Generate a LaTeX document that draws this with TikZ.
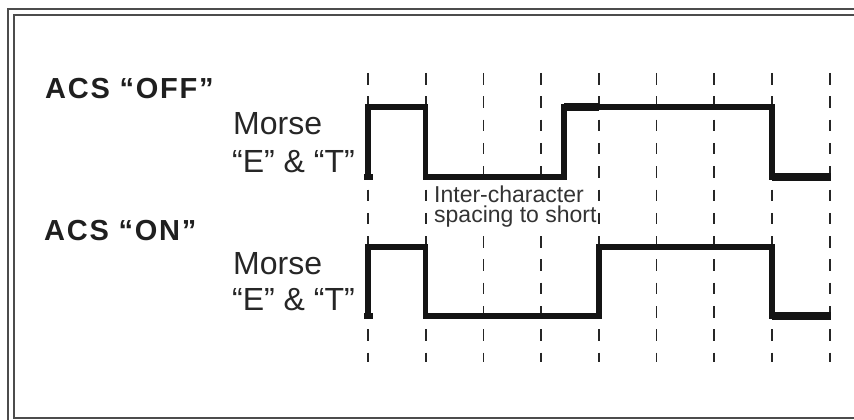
\documentclass[tikz,border=0pt]{standalone}
\usepackage{fontspec}
\setmainfont{Liberation Sans}
\usetikzlibrary{calc}
\tikzset{%
  frameline/.style={draw=black!70, line width=1.5pt},
  gridline/.style={black!85, line width=1.8pt, dash pattern=on 11.5pt off 11.8pt},
  wave/.style={black!92, line width=5.5pt, line join=miter},
  wavebold/.style={black!92, line width=8.5pt},
  modetext/.style={font=\fontsize{29}{32}\selectfont\bfseries\addfontfeature{LetterSpace=6}, text=black!88, inner sep=0pt},
  codetext/.style={font=\fontsize{32}{36}\selectfont, text=black!85, inner sep=0pt},
  notetext/.style={font=\fontsize{23}{19.5}\selectfont, text=black!80, fill=white, inner sep=1pt, align=left},
}

\begin{document}
\begin{tikzpicture}[x=1pt, y=-1pt]
    \useasboundingbox (0,0) rectangle (854,420);
    \clip (0,0) rectangle (854,420);

    %double frame
    \draw[frameline] (8,9) rectangle (900,440);
    \draw[frameline] (14,15) rectangle (900,418);

    %time grid
    \foreach \i in {0,...,8}{
        \coordinate (g\i) at (368+57.7*\i, 0);
        \draw[gridline] (368+57.7*\i,73) -- (368+57.7*\i,362);
    }

    \coordinate (offhi) at (0,107);
    \coordinate (offlo) at (0,177);
    \coordinate (onhi) at (0,247);
    \coordinate (onlo) at (0,316);
    \coordinate (early) at (564,0);
    \coordinate (tail) at (831,0);

    %ACS off waveform
    \draw[wave] (g0 |- offlo) -- (g0 |- offhi) -- (g1 |- offhi) -- (g1 |- offlo)
        -- (early |- offlo) -- (early |- offhi) -- (g7 |- offhi) -- (g7 |- offlo)
        -- (tail |- offlo);
    \draw[wavebold] (early |- offhi) -- (g4 |- offhi);
    \draw[wavebold] (g7 |- offlo) -- (tail |- offlo);
    \fill[black!92] ($(g0 |- offlo)+(-4.5,-3)$) rectangle ($(g0 |- offlo)+(4.5,2.5)$);

    %ACS on waveform
    \draw[wave] (g0 |- onlo) -- (g0 |- onhi) -- (g1 |- onhi) -- (g1 |- onlo)
        -- (g4 |- onlo) -- (g4 |- onhi) -- (g7 |- onhi) -- (g7 |- onlo)
        -- (tail |- onlo);
    \draw[wavebold] (g7 |- onlo) -- (tail |- onlo);
    \fill[black!92] ($(g0 |- onlo)+(-4.5,-3)$) rectangle ($(g0 |- onlo)+(4.5,2.5)$);

    % labels
    \node[modetext, anchor=base west] (acsoff) at (45,99) {ACS “OFF”};
    \node[modetext, anchor=base west] (acson) at (44,240) {ACS “ON”};

    \node[codetext, anchor=base west] (morseoff) at (233,134) {Morse};
    \node[codetext, anchor=base west] (letteroff) at (232,172) {“E” \& “T”};
    \node[codetext, anchor=base west] (morseon) at (233,274) {Morse};
    \node[codetext, anchor=base west] (letteron) at (232,310) {“E” \& “T”};

    \node[notetext, anchor=north west] (note) at (433,185) {Inter-character\\spacing to short};

\end{tikzpicture}
\end{document}
